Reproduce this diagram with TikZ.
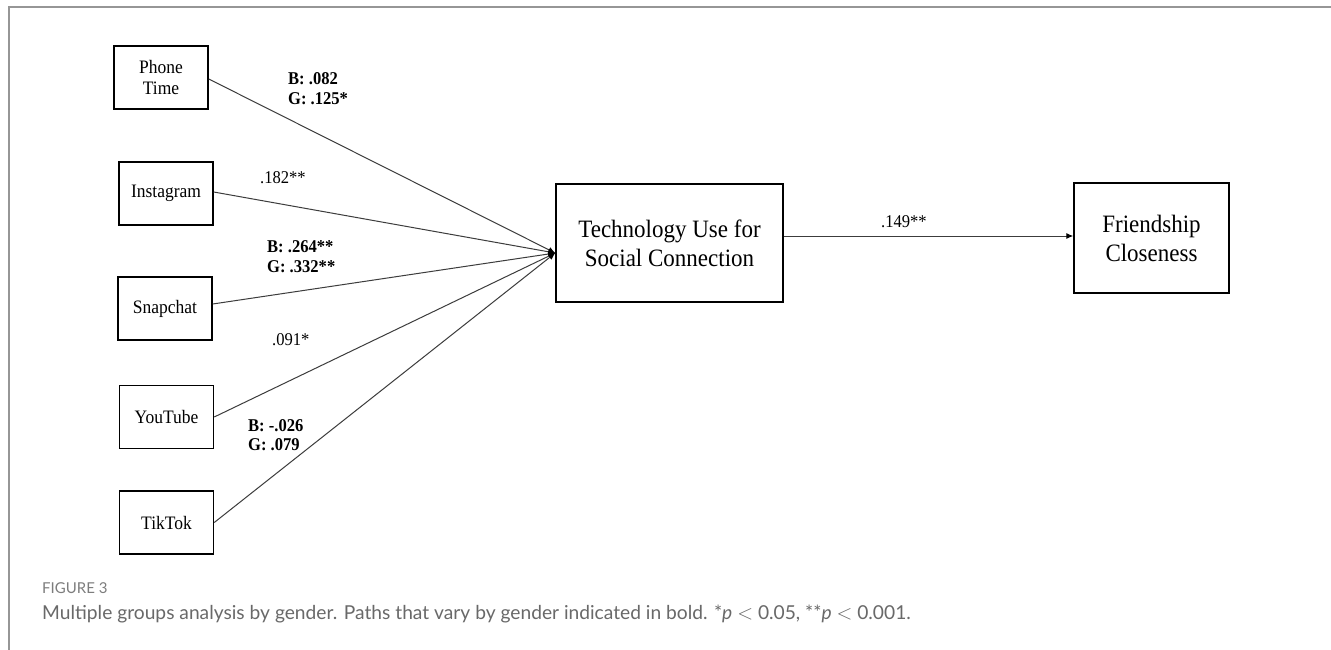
\documentclass[tikz,border=0pt]{standalone}
\usepackage{fontspec}
\setmainfont[FakeStretch=0.92]{Liberation Serif}
\newfontfamily\capfont{Lato}
\usetikzlibrary{arrows.meta}
\definecolor{framegray}{RGB}{150,150,150}
\definecolor{capgray}{RGB}{105,105,105}
\definecolor{figgray}{RGB}{125,125,125}
\definecolor{linegray}{RGB}{60,60,60}
\begin{document}
\begin{tikzpicture}[x=1pt,y=-1pt,
  srcbox/.style={draw=black, line width=1.5pt, minimum width=94pt, minimum height=63pt,
    inner sep=0pt, align=center, font=\fontsize{19}{20.5}\selectfont},
  bigbox/.style={draw=black, line width=1.5pt, inner sep=0pt, align=center,
    font=\fontsize{25}{29}\selectfont},
  path/.style={draw=linegray, line width=1pt, -{Latex[length=7pt,width=6pt,fill=black,color=black]}},
  coef/.style={inner sep=0pt, align=left, font=\fontsize{18}{19.5}\selectfont},
  coefb/.style={coef, font=\fontsize{18}{19.5}\selectfont\bfseries}]
\useasboundingbox (0,0) rectangle (1331,650);
\fill[white] (0,0) rectangle (1331,650);
% frame
\draw[framegray, line width=2pt] (9,650) -- (9,7) -- (1331,7);

% source boxes
\node[srcbox] (phone) at (161,77.5) {Phone\\Time};
\node[srcbox] (insta) at (166,193.5) {Instagram};
\node[srcbox] (snap) at (165,308.5) {Snapchat};
\node[srcbox] (yt) at (166.5,417) {YouTube};
\node[srcbox] (tt) at (166.5,522.5) {TikTok};

% main boxes
\node[bigbox, minimum width=227pt, minimum height=118pt] (tech) at (669.5,243) {Technology Use for\\Social Connection};
\node[bigbox, minimum width=155pt, minimum height=110pt] (friend) at (1151.5,238) {Friendship\\Closeness};

\coordinate (conv) at ([yshift=-10pt]tech.west);

% paths
\draw[path] ([yshift=-1.5pt]phone.east) -- (conv);
\draw[path] ([yshift=1.5pt]insta.east) -- (conv);
\draw[path] ([yshift=4.5pt]snap.east) -- (conv);
\draw[path] (yt.east) -- (conv);
\draw[path] (tt.east) -- (conv);
\draw[path] ([yshift=7pt]tech.east) -- ([yshift=2pt]friend.west);

% coefficients
\node[coefb, anchor=west] (c1) at (288,88.5) {B: .082\\G: .125*};
\node[coef, anchor=west] (c2) at (260,178) {.182**};
\node[coefb, anchor=west] (c3) at (267,256.5) {B: .264**\\G: .332**};
\node[coef, anchor=west] (c4) at (272,340) {.091*};
\node[coefb, anchor=west] (c5) at (248,435) {B: -.026\\G: .079};
\node[coef] (c6) at (904,222) {.149**};

% caption
\node[anchor=west, inner sep=0pt, text=figgray, font=\capfont\fontsize{15}{17}\selectfont] (figlab) at (42,588) {FIGURE 3};
\node[anchor=west, inner sep=0pt, text=capgray, font=\capfont\fontsize{19.2}{21}\selectfont] (cap) at (42,614)
  {Multiple groups analysis by gender. Paths that vary by gender indicated in bold. *\textit{p} $<$ 0.05, **\textit{p} $<$ 0.001.};
\end{tikzpicture}
\end{document}
